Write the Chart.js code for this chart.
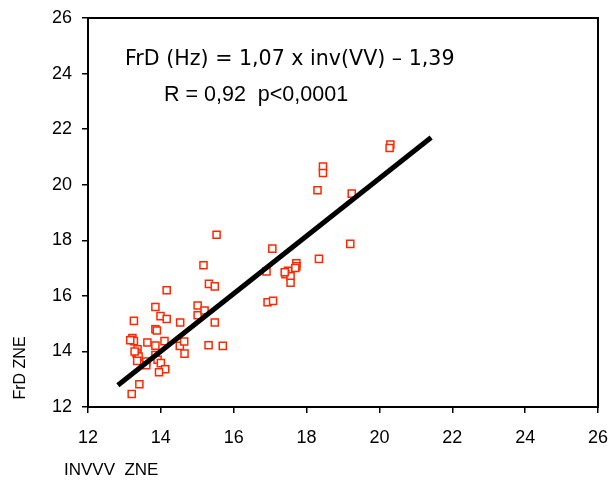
<!DOCTYPE html>
<html>
<head>
<meta charset="utf-8">
<script src="https://cdn.jsdelivr.net/npm/chart.js@4"></script>
<style>
  html, body { margin: 0; padding: 0; background: #fff; }
  #wrap { width: 610px; height: 484px; }
</style>
</head>
<body>
<div id="wrap"><canvas id="chart"></canvas></div>
<script>
// INVVV ZNE (x) vs FrD ZNE (y)
const invvv = [20.3, 20.28, 18.45, 18.45, 18.3, 19.24, 19.2, 17.06, 18.34, 17.72,
               17.72, 17.69, 16.9, 17.49, 17.42, 17.56, 17.56, 16.93, 17.08, 15.53,
               15.17, 15.32, 15.48, 15.01, 15.01, 15.2, 15.48, 14.16, 13.85, 13.99,
               14.16, 13.26, 14.53, 13.85, 13.89, 13.22, 13.2, 13.26, 13.16, 13.63,
               13.85, 14.1, 14.52, 14.64, 15.31, 15.7, 14.65, 13.36, 13.33, 13.39,
               13.35, 13.6, 13.6, 13.85, 13.91, 14.0, 14.12, 13.95, 13.41, 13.2,
               13.28, 17.4];
const frd   = [21.45, 21.32, 20.65, 20.42, 19.8, 19.68, 17.87, 17.7, 17.33, 17.17,
               17.06, 17.0, 16.88, 16.9, 16.78, 16.7, 16.47, 15.77, 15.82, 18.2,
               17.1, 16.43, 16.34, 15.65, 15.3, 15.47, 15.04, 16.2, 15.6, 15.27,
               15.17, 15.1, 15.04, 14.8, 14.75, 14.48, 14.42, 14.37, 14.4, 14.32,
               14.21, 14.37, 14.2, 14.36, 14.22, 14.2, 13.92, 14.08, 13.94, 13.82,
               13.66, 13.64, 13.5, 13.87, 13.7, 13.58, 13.36, 13.25, 12.82, 12.47,
               14.0, 16.85];
// regression line end points
const fitX = [12.82, 21.42];
const fitY = [12.78, 21.70];
const xTicks = [12, 14, 16, 18, 20, 22, 24, 26];
const yTicks = [12, 14, 16, 18, 20, 22, 24, 26];

const points = invvv.map((x, i) => ({ x: x, y: frd[i] }));
const fit = fitX.map((x, i) => ({ x: x, y: fitY[i] }));

// top/right edges of the box + texts drawn on top
const labels = {
    id: 'labels',
    afterDraw(chart) {
        const ctx = chart.ctx;
        const a = chart.chartArea;
        ctx.save();
        ctx.fillStyle = '#000';
        ctx.fillRect(a.left - 1, a.top - 1, a.right - a.left + 2, 2);
        ctx.fillRect(a.right - 1, a.top - 1, 2, a.bottom - a.top + 2);
        ctx.textBaseline = 'middle';
        ctx.textAlign = 'left';
        ctx.font = '20.6px "DejaVu Sans"';
        ctx.fillText('FrD (Hz) = 1,07 x inv(VV) \u2013 1,39', 125, 60);
        ctx.font = '21.5px "Liberation Sans"';
        ctx.fillText('R = 0,92  p<0,0001', 164, 95);
        ctx.font = '17px "Liberation Sans"';
        ctx.fillText('INVVV  ZNE', 64, 470);
        ctx.translate(21, 368);
        ctx.rotate(-Math.PI / 2);
        ctx.textAlign = 'center';
        ctx.font = '16px "Liberation Sans"';
        ctx.fillText('FrD ZNE', 0, 0);
        ctx.restore();
    }
};

const tickFont = { family: 'Liberation Sans', size: 18 };

const config = {
    type: 'scatter',
    data: {
        datasets: [{
            data: points,
            pointStyle: 'rect',
            pointRadius: 5,
            pointBorderWidth: 1.5,
            pointBorderColor: 'rgb(255,40,0)',
            pointBackgroundColor: '#fff',
            order: 2
        }, {
            type: 'line',
            data: fit,
            borderColor: '#000',
            borderWidth: 5,
            pointRadius: 0,
            fill: false,
            order: 1
        }]
    },
    options: {
        responsive: true,
        maintainAspectRatio: false,
        animation: false,
        layout: { padding: { top: 18, right: 12, left: 0, bottom: 0 } },
        plugins: {
            legend: { display: false },
            tooltip: { enabled: false }
        },
        scales: {
            x: {
                type: 'linear',
                min: 12,
                max: 26,
                afterBuildTicks: (s) => { s.ticks = xTicks.map(v => ({ value: v })); },
                afterFit: (s) => { s.height = 77; s.paddingLeft = 0; s.paddingRight = 0; },
                grid: { drawOnChartArea: false, drawTicks: true, tickLength: 6, color: '#000', lineWidth: 1.5 },
                border: { display: true, color: '#000', width: 2 },
                ticks: { color: '#000', padding: 14, font: tickFont }
            },
            y: {
                type: 'linear',
                min: 12,
                max: 26,
                afterBuildTicks: (s) => { s.ticks = yTicks.map(v => ({ value: v })); },
                afterFit: (s) => { s.width = 88; s.paddingTop = 0; s.paddingBottom = 0; },
                grid: { drawOnChartArea: false, drawTicks: true, tickLength: 6, color: '#000', lineWidth: 1.5 },
                border: { display: true, color: '#000', width: 2 },
                ticks: { color: '#000', padding: 10, font: tickFont }
            }
        }
    },
    plugins: [labels]
};

window.onload = function () {
    const ctx = document.querySelector('#chart').getContext('2d');
    const myChart = new Chart(ctx, config);
};
</script>
</body>
</html>
